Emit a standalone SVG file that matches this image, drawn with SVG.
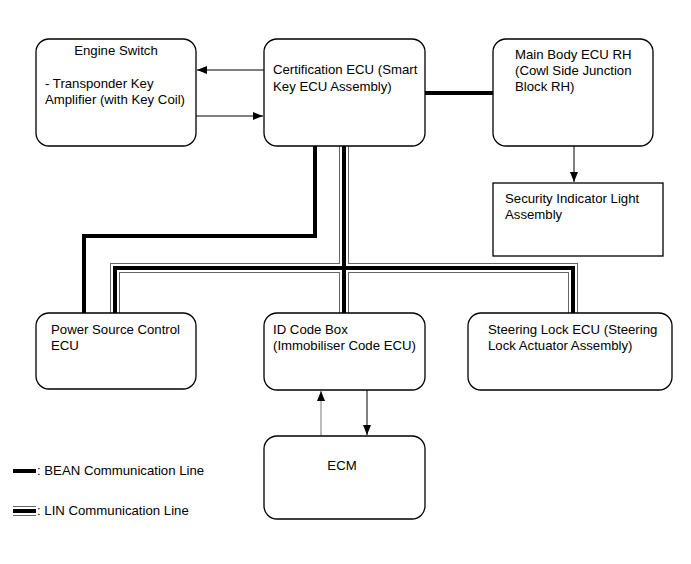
<svg xmlns="http://www.w3.org/2000/svg" width="691" height="564" viewBox="0 0 691 564">
<defs>
<marker id="ah" markerWidth="10" markerHeight="8" refX="10" refY="4" orient="auto" markerUnits="userSpaceOnUse"><path d="M0,0 L10,4 L0,8 Z" fill="#000"/></marker>
</defs>
<style>
.box{fill:#fff;stroke:#000;stroke-width:1.3}
text{font-family:"Liberation Sans",Arial,sans-serif;font-size:13.2px;fill:#000}
.thin{fill:none;stroke:#000;stroke-width:1}
.gthin{fill:none;stroke:#777;stroke-width:1}
.bean{fill:none;stroke:#000;stroke-width:4}
.lin-o{fill:none;stroke:#666;stroke-width:10}
.lin-m{fill:none;stroke:#fff;stroke-width:8}
.lin-i{fill:none;stroke:#000;stroke-width:4}
</style>
<rect width="691" height="564" fill="#fff"/>
<g id="connectors">
<line class="thin" x1="264" y1="70" x2="197" y2="70" marker-end="url(#ah)"/>
<line class="thin" x1="196" y1="116" x2="263" y2="116" marker-end="url(#ah)"/>
<line class="bean" x1="425" y1="93" x2="493" y2="93"/>
<line class="thin" x1="574" y1="146" x2="574" y2="182" marker-end="url(#ah)"/>
<polyline class="bean" points="315,146 315,236 84,236 84,313"/>
<path class="lin-o" d="M344,146 V313 M115,313 V268 H573 V313"/>
<path class="lin-m" d="M344,146 V313 M115,313 V268 H573 V313"/>
<path class="lin-i" d="M344,146 V313 M115,313 V268 H573 V313"/>
<line class="gthin" x1="321" y1="436" x2="321" y2="391" marker-end="url(#ah)"/>
<line class="thin" x1="367" y1="390" x2="367" y2="435" marker-end="url(#ah)"/>
</g>
<g id="engine-switch">
<rect class="box" x="36" y="39" width="160" height="107" rx="13"/>
<text x="116" y="55" text-anchor="middle">Engine Switch</text>
<text x="45" y="88">- Transponder Key</text>
<text x="45" y="104">Amplifier (with Key Coil)</text>
</g>
<g id="certification-ecu">
<rect class="box" x="264" y="39" width="161" height="107" rx="13"/>
<text x="273" y="74">Certification ECU (Smart</text>
<text x="273" y="91">Key ECU Assembly)</text>
</g>
<g id="main-body-ecu">
<rect class="box" x="493" y="39" width="160" height="107" rx="13"/>
<text x="515" y="59">Main Body ECU RH</text>
<text x="515" y="75">(Cowl Side Junction</text>
<text x="515" y="91">Block RH)</text>
</g>
<g id="security-indicator">
<rect class="box" x="493" y="183" width="170" height="73"/>
<text x="505" y="203">Security Indicator Light</text>
<text x="505" y="219">Assembly</text>
</g>
<g id="power-source">
<rect class="box" x="36" y="313" width="160" height="76" rx="13"/>
<text x="51" y="334">Power Source Control</text>
<text x="51" y="350">ECU</text>
</g>
<g id="id-code-box">
<rect class="box" x="264" y="313" width="161" height="77" rx="13"/>
<text x="273" y="334">ID Code Box</text>
<text x="273" y="350">(Immobiliser Code ECU)</text>
</g>
<g id="steering-lock">
<rect class="box" x="468" y="313" width="204" height="77" rx="13"/>
<text x="488" y="334">Steering Lock ECU (Steering</text>
<text x="488" y="350">Lock Actuator Assembly)</text>
</g>
<g id="ecm">
<rect class="box" x="264" y="436" width="161" height="83" rx="13"/>
<text x="342" y="470" text-anchor="middle">ECM</text>
</g>
<g id="legend">
<line class="bean" x1="13" y1="471" x2="36" y2="471"/>
<text x="37" y="475">: BEAN Communication Line</text>
<line x1="13" y1="511" x2="36" y2="511" stroke="#666" stroke-width="10"/>
<line x1="13" y1="511" x2="36" y2="511" stroke="#fff" stroke-width="8"/>
<line x1="13" y1="511" x2="36" y2="511" stroke="#000" stroke-width="4"/>
<text x="37" y="515">: LIN Communication Line</text>
</g>
</svg>
